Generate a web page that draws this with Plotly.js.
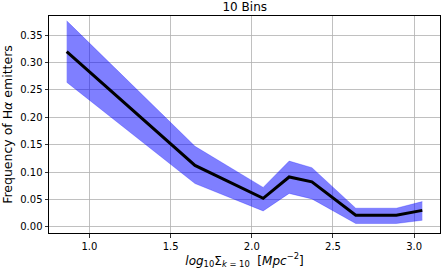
<!DOCTYPE html>
<html>
<head>
<meta charset="utf-8">
<script src="https://cdn.plot.ly/plotly-3.0.1.min.js"></script>
<style>html,body{margin:0;padding:0;background:#fff;}#chart{width:441px;height:270px;}</style>
</head>
<body>
<div id="chart"></div>
<script>
const binCenters = [0.86, 1.65, 2.07, 2.23, 2.37, 2.64, 2.89, 3.05];
const frequency  = [0.320, 0.112, 0.052, 0.091, 0.082, 0.021, 0.021, 0.030];
const upperBound = [0.376, 0.147, 0.072, 0.120, 0.108, 0.034, 0.034, 0.046];
const lowerBound = [0.264, 0.079, 0.029, 0.061, 0.051, 0.006, 0.006, 0.012];
const xTicks = [1.0, 1.5, 2.0, 2.5, 3.0];
const yTicks = [0.00, 0.05, 0.10, 0.15, 0.20, 0.25, 0.30, 0.35];

const font = {family: 'DejaVu Sans', size: 10, color: '#000'};
const traces = [
  {x: binCenters, y: lowerBound, mode: 'lines', line: {width: 0, color: 'rgba(0,0,255,0.5)'}, hoverinfo: 'skip', showlegend: false},
  {x: binCenters, y: upperBound, mode: 'lines', fill: 'tonexty', fillcolor: 'rgba(0,0,255,0.5)', line: {width: 0.5, color: 'rgba(0,0,255,0.5)'}, showlegend: false},
  {x: binCenters, y: lowerBound, mode: 'lines', line: {width: 0.5, color: 'rgba(0,0,255,0.5)'}, showlegend: false},
  {x: binCenters, y: frequency, mode: 'lines', line: {width: 3, color: '#000'}, showlegend: false}
];
const layout = {
  width: 441, height: 270,
  margin: {l: 49, r: 1, t: 16, b: 37},
  paper_bgcolor: '#fff', plot_bgcolor: '#fff',
  font: font,
  title: {text: '10 Bins', font: {family: 'DejaVu Sans', size: 12, color: '#000'}, x: 0.555, xanchor: 'center', y: 0.975, yanchor: 'middle'},
  xaxis: {
    range: [0.751, 3.159],
    tickvals: xTicks, ticktext: xTicks.map(v => v.toFixed(1)),
    ticks: 'outside', ticklen: 3.5, tickcolor: '#000', tickwidth: 0.8,
    showgrid: true, gridcolor: '#b0b0b0', gridwidth: 0.8,
    showline: true, linecolor: '#000', linewidth: 1, mirror: true,
    zeroline: false, tickfont: font,
    title: {text: '<i>log</i><sub>10</sub>Σ<sub><i>k</i> = 10</sub>  [<i>Mpc</i><sup>−2</sup>]', font: {family: 'DejaVu Sans', size: 12, color: '#000'}, standoff: 3}
  },
  yaxis: {
    range: [-0.0113, 0.3849],
    tickvals: yTicks, ticktext: yTicks.map(v => v.toFixed(2)),
    ticks: 'outside', ticklen: 3.5, tickcolor: '#000', tickwidth: 0.8,
    showgrid: true, gridcolor: '#b0b0b0', gridwidth: 0.8,
    showline: true, linecolor: '#000', linewidth: 1, mirror: true,
    zeroline: false, tickfont: font,
    title: {text: 'Frequency of H<i>α</i> emitters', font: {family: 'DejaVu Sans', size: 12.5, color: '#000'}, standoff: 4}
  }
};
Plotly.newPlot('chart', traces, layout, {displayModeBar: false, staticPlot: true});
</script>
</body>
</html>
